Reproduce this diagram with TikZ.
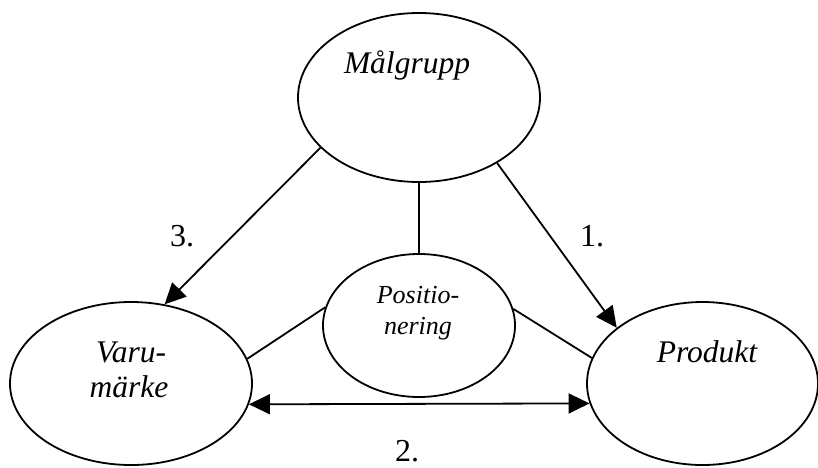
\documentclass[tikz,border=0pt]{standalone}
\usepackage{fontspec}
\setmainfont{Liberation Serif}
\usetikzlibrary{positioning, arrows.meta, shapes.geometric}
\tikzset{
  blob/.style={draw, ellipse, line width=1.8pt, inner sep=0pt},
  word/.style={font=\fontsize{31.5}{35}\selectfont\itshape, align=center, inner sep=0pt},
  small/.style={font=\fontsize{26}{31}\selectfont\itshape, align=center, inner sep=0pt},
  num/.style={font=\fontsize{32}{36}\selectfont, inner sep=0pt},
  arr/.style={-{Triangle[length=21pt,width=20pt]}, line width=1.8pt},
  both/.style={{Triangle[length=21pt,width=20pt]}-{Triangle[length=21pt,width=20pt]}, line width=1.8pt},
  plain/.style={line width=1.8pt}
}

\begin{document}
\begin{tikzpicture}[x=1pt, y=-1pt]
    \useasboundingbox (0,0) rectangle (818,467);

    % ellipses
    \node[blob, minimum width=242pt, minimum height=169pt] (malgrupp) at (419,97.5) {};
    \node[blob, minimum width=242pt, minimum height=163pt] (varumarke) at (131,383.5) {};
    \node[blob, minimum width=231pt, minimum height=163pt] (produkt) at (702.5,383.5) {};
    \node[blob, minimum width=192pt, minimum height=143pt] (posit) at (419,325.5) {};

    % texts
    \node[word, anchor=base] (tmal) at (407,73) {Målgrupp};
    \node[word, anchor=base] (tvaru) at (131,362) {Varu-};
    \node[word, anchor=base] (tmarke) at (129,397) {märke};
    \node[word, anchor=base] (tprod) at (707,362) {Produkt};
    \node[small, anchor=base] (tpos) at (418,303) {Positio-};
    \node[small, anchor=base] (tner) at (418,334) {nering};

    % numbers
    \node[num, anchor=base] (n3) at (182,246) {3.};
    \node[num, anchor=base] (n1) at (592,246) {1.};
    \node[num, anchor=base] (n2) at (407,461) {2.};

    % connectors
    \draw[arr] (malgrupp.207) -- (varumarke.67);
    \draw[arr] (malgrupp.320) -- (produkt.147);
    \draw[plain] (malgrupp.south) -- (posit.north);
    \draw[plain] (varumarke.12.6) -- (posit.169.7);
    \draw[plain] (posit.10.3) -- (produkt.167);
    \draw[both] (varumarke.350.4) -- (produkt.190);
\end{tikzpicture}
\end{document}
